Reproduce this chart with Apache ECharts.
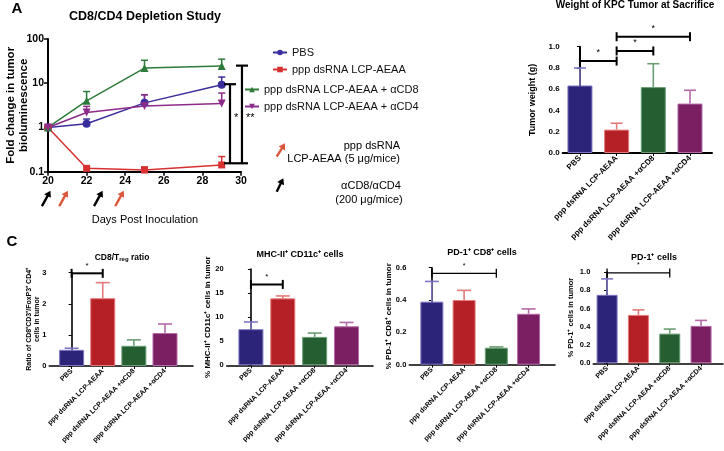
<!DOCTYPE html>
<html>
<head>
<meta charset="utf-8">
<script src="https://cdn.jsdelivr.net/npm/echarts@6/dist/echarts.min.js"></script>
<style>
html, body { margin: 0; padding: 0; background: #fff; }
#main { width: 724px; height: 451px; }
</style>
</head>
<body>
<div id="main"></div>
<script>
// ---- panel A: fold change in bioluminescence ----
var days = [20, 22, 25, 29];
var foldPbs = [1, 1.21, 3.6, 9.2];
var foldPbsHi = [1, 1.55, 5.5, 13.8];
var foldRna = [1, 0.119, 0.109, 0.142];
var foldRnaHi = [1, 0.13, 0.128, 0.22];
var foldCd8 = [1, 4.0, 22, 24.5];
var foldCd8Hi = [1, 6.5, 33, 35];
var foldCd4 = [1, 2.18, 3.05, 3.5];
var foldCd4Hi = [1, 3.0, 5.5, 6.0];
// [x, top, bottom]
var foldSig = [[29.43, 9.5, 0.155], [30.05, 25, 0.155]];
var foldSigText = ['*', '**'];
var antibodyDays = [20.1, 22.8];
var rnaDays = [21, 23.9];

var legendNames = ['PBS', 'ppp dsRNA LCP-AEAA', 'ppp dsRNA LCP-AEAA + \u03b1CD8', 'ppp dsRNA LCP-AEAA + \u03b1CD4'];

// ---- bar panels ----
var groups = ['PBS', 'ppp dsRNA LCP-AEAA', 'ppp dsRNA LCP-AEAA +\u03b1CD8', 'ppp dsRNA LCP-AEAA +\u03b1CD4'];
var tumorWeight = [0.635, 0.22, 0.62, 0.465];
var tumorWeightHi = [0.80, 0.28, 0.84, 0.59];
var cd8TregRatio = [0.52, 2.18, 0.65, 1.06];
var cd8TregRatioHi = [0.57, 2.68, 0.84, 1.35];
var mhcCells = [7.5, 13.9, 5.9, 8.1];
var mhcCellsHi = [9.0, 14.4, 6.7, 8.9];
var pd1Cd8Cells = [0.39, 0.40, 0.105, 0.315];
var pd1Cd8CellsHi = [0.515, 0.46, 0.11, 0.345];
var pd1Cells = [0.75, 0.53, 0.325, 0.41];
var pd1CellsHi = [0.925, 0.585, 0.375, 0.47];
// significance brackets [from, to, y]
var weightSig = [[0, 1, 0.865], [1, 2, 0.96], [1, 3, 1.094]];
var ratioSig = [[0, 1, 2.98]];
var mhcSig = [[0, 1, 16.8]];
var pd1Cd8Sig = [[0, 2, 0.565]];
var pd1Sig = [[0, 2, 0.99]];

var FONT = 'Liberation Sans, Arial, Helvetica, sans-serif';
var lineColors = ['#3a2d9c', '#d83131', '#2d7b3a', '#8d2b8a'];
var barFill = ['#2b2479', '#b52026', '#245e31', '#7b1f63'];
var barEdge = ['#7d76c2', '#e57a7a', '#6b9e74', '#b46aa6'];
var orange = '#d9583c';

var chart = echarts.init(document.getElementById('main'));
var grids = [], xAxes = [], yAxes = [], series = [], graphics = [];

function arrowEls(hx, hy, tx, ty, color) {
  var dx = hx - tx, dy = hy - ty, L = Math.sqrt(dx * dx + dy * dy);
  var ux = dx / L, uy = dy / L, nx = -uy, ny = ux;
  var bx = hx - ux * 6, by = hy - uy * 6;
  return [
    { type: 'line', shape: { x1: tx, y1: ty, x2: bx + ux, y2: by + uy }, style: { stroke: color, lineWidth: 2.4 } },
    { type: 'polygon', shape: { points: [[hx, hy], [bx + nx * 3.8, by + ny * 3.8], [bx - nx * 3.8, by - ny * 3.8]] }, style: { fill: color } }
  ];
}

function txt(x, y, s, size, bold, align, rich) {
  var st = { text: s, font: (bold ? 'bold ' : '') + size + 'px ' + FONT, fill: '#000', align: align || 'center', verticalAlign: 'middle' };
  if (rich) st.rich = rich;
  graphics.push({ type: 'text', x: x, y: y, style: st });
}

// error bar going up from the mean
function errBar(cap, lw, colors) {
  return function (params, api) {
    if (api.value(2) <= api.value(1)) return null;
    var lo = api.coord([api.value(0), api.value(1)]);
    var hi = api.coord([api.value(0), api.value(2)]);
    var col = Array.isArray(colors) ? colors[params.dataIndex] : colors;
    return { type: 'group', children: [
      { type: 'line', shape: { x1: lo[0], y1: lo[1], x2: hi[0], y2: hi[1] }, style: { stroke: col, lineWidth: lw } },
      { type: 'line', shape: { x1: hi[0] - cap, y1: hi[1], x2: hi[0] + cap, y2: hi[1] }, style: { stroke: col, lineWidth: lw } }
    ] };
  };
}

function bracket(lw, starSize) {
  return function (params, api) {
    var a = api.coord([api.value(0), api.value(2)]);
    var b = api.coord([api.value(1), api.value(2)]);
    var st = { stroke: '#000', lineWidth: lw };
    return { type: 'group', children: [
      { type: 'line', shape: { x1: a[0], y1: a[1], x2: b[0], y2: b[1] }, style: st },
      { type: 'line', shape: { x1: a[0], y1: a[1] - 4.5, x2: a[0], y2: a[1] + 4.5 }, style: st },
      { type: 'line', shape: { x1: b[0], y1: b[1] - 4.5, x2: b[0], y2: b[1] + 4.5 }, style: st },
      { type: 'text', x: (a[0] + b[0]) / 2, y: a[1] - 4, style: { text: '*', font: starSize + 'px ' + FONT, fill: '#000', align: 'center', verticalAlign: 'bottom' } }
    ] };
  };
}

// ---------- panel A ----------
grids.push({ left: 48, top: 39, width: 193, height: 132.7, outerBoundsMode: 'none' });
xAxes.push({
  type: 'value', gridIndex: 0, min: 20, max: 30, interval: 2,
  axisLine: { onZero: false, lineStyle: { color: '#000', width: 2 } },
  axisTick: { length: 4, lineStyle: { color: '#000', width: 1.5 } },
  axisLabel: { color: '#000', fontWeight: 'bold', fontSize: 10.5, margin: 4, fontFamily: FONT },
  splitLine: { show: false }
});
yAxes.push({
  type: 'log', logBase: 10, gridIndex: 0, min: 0.1, max: 100,
  axisLine: { show: true, lineStyle: { color: '#000', width: 2 } },
  axisTick: { show: true, length: 4, lineStyle: { color: '#000', width: 1.5 } },
  minorTick: { show: false },
  axisLabel: { color: '#000', fontWeight: 'bold', fontSize: 10.5, margin: 4, fontFamily: FONT,
    formatter: function (v) { return String(+(+v).toPrecision(2)); } },
  splitLine: { show: false },
  name: 'Fold change in tumor\nbioluminescence', nameLocation: 'middle', nameGap: 18, nameMoveOverlap: false,
  nameTextStyle: { fontWeight: 'bold', fontSize: 11.5, lineHeight: 12.5, color: '#000', fontFamily: FONT }
});

var foldSets = [[foldPbs, foldPbsHi], [foldRna, foldRnaHi], [foldCd8, foldCd8Hi], [foldCd4, foldCd4Hi]];
var symbols = ['circle', 'rect', 'triangle', 'triangle'];
var symSizes = [8, 7, 8, 8];
var symRot = [0, 0, 0, 180];
foldSets.forEach(function (s, k) {
  series.push({
    type: 'custom', xAxisIndex: 0, yAxisIndex: 0, z: 1,
    data: days.map(function (d, i) { return [d, s[0][i], s[1][i]]; }),
    renderItem: errBar(3.5, 1.5, lineColors[k])
  });
  series.push({
    type: 'line', name: legendNames[k], xAxisIndex: 0, yAxisIndex: 0, z: 3,
    data: days.map(function (d, i) { return [d, s[0][i]]; }),
    symbol: symbols[k], symbolSize: symSizes[k], symbolRotate: symRot[k],
    color: lineColors[k], lineStyle: { width: 1.5 }
  });
});
var foldStarLevel = 1.85;
series.push({
  type: 'custom', xAxisIndex: 0, yAxisIndex: 0, z: 4, clip: false,
  data: foldSig,
  renderItem: function (params, api) {
    var t = api.coord([api.value(0), api.value(1)]);
    var b = api.coord([api.value(0), api.value(2)]);
    var s = api.coord([api.value(0), foldStarLevel]);
    var st = { stroke: '#000', lineWidth: 2.2 };
    return { type: 'group', children: [
      { type: 'line', shape: { x1: t[0], y1: t[1], x2: b[0], y2: b[1] }, style: st },
      { type: 'line', shape: { x1: t[0] - 6, y1: t[1], x2: t[0] + 6, y2: t[1] }, style: st },
      { type: 'line', shape: { x1: b[0] - 6, y1: b[1], x2: b[0] + 6, y2: b[1] }, style: st },
      { type: 'text', x: t[0] + 4, y: s[1] + 2, style: { text: foldSigText[params.dataIndex], font: '11px ' + FONT, fill: '#000', align: 'left', verticalAlign: 'middle' } }
    ] };
  }
});
// injection arrows under the day axis
function arrowSeries(dayList, color) {
  series.push({
    type: 'custom', xAxisIndex: 0, yAxisIndex: 0, clip: false, z: 4,
    data: dayList.map(function (d) { return [d, 0.1]; }),
    renderItem: function (params, api) {
      var p = api.coord([api.value(0), api.value(1)]);
      return { type: 'group', children: arrowEls(p[0] + 0.5, p[1] + 19, p[0] - 8, p[1] + 34.5, color) };
    }
  });
}
arrowSeries(antibodyDays, '#000');
arrowSeries(rnaDays, orange);

// ---------- bar panels ----------
function barPanel(o) {
  var g = grids.length;
  grids.push({ left: o.left, top: o.top, width: o.width, height: o.height, outerBoundsMode: 'none' });
  xAxes.push({
    type: 'value', gridIndex: g, min: o.xmin, max: o.xmax,
    axisLine: { onZero: false, lineStyle: { color: '#000', width: o.lw } },
    axisTick: { show: true, customValues: [0, 1, 2, 3], length: 3, lineStyle: { color: '#000', width: 1 } },
    axisLabel: { customValues: [0, 1, 2, 3], formatter: function (v) { return groups[Math.round(v)]; },
      rotate: 45, fontSize: o.xfs, fontWeight: 'bold', color: '#000', fontFamily: FONT, margin: 4 },
    splitLine: { show: false }
  });
  yAxes.push({
    type: 'value', gridIndex: g, min: 0, max: o.ymax, interval: o.step,
    axisLine: { show: true, lineStyle: { color: '#000', width: o.lw } },
    axisTick: { show: true, length: 3, lineStyle: { color: '#000', width: 1 } },
    axisLabel: { color: '#000', fontWeight: 'bold', fontSize: o.yfs, margin: 3, fontFamily: FONT,
      formatter: function (v) { return o.dec ? v.toFixed(o.dec) : String(v); } },
    splitLine: { show: false },
    name: o.yName, nameLocation: 'middle', nameGap: o.nameGap, nameMoveOverlap: false,
    nameTextStyle: { fontWeight: 'bold', fontSize: o.nameFs, lineHeight: o.nameFs + 1, color: '#000', fontFamily: FONT }
  });
  series.push({
    type: 'custom', xAxisIndex: g, yAxisIndex: g, z: 1,
    data: o.vals.map(function (v, i) { return [i, v, o.hi[i]]; }),
    renderItem: errBar(o.cap, 1.6, barEdge)
  });
  series.push({
    type: 'bar', xAxisIndex: g, yAxisIndex: g, barWidth: o.barW, z: 2,
    data: o.vals.map(function (v, i) {
      return { value: [i, v], itemStyle: { color: barFill[i], borderColor: barEdge[i], borderWidth: 1 } };
    })
  });
  series.push({
    type: 'custom', xAxisIndex: g, yAxisIndex: g, z: 3, clip: false,
    encode: { x: [0, 1], y: 2 },
    data: o.sig, renderItem: bracket(o.blw, o.starFs)
  });
}

barPanel({ left: 562.7, top: 46.7, width: 149.3, height: 106.3, xmin: -0.47, xmax: 3.6,
  ymax: 1, step: 0.2, dec: 1, vals: tumorWeight, hi: tumorWeightHi, sig: weightSig,
  barW: 25, cap: 6, lw: 2, blw: 2, starFs: 9, xfs: 8, yfs: 8,
  yName: 'Tumor weight (g)', nameGap: 25, nameFs: 9 });
barPanel({ left: 49.3, top: 272.7, width: 143.7, height: 93.3, xmin: -0.717, xmax: 3.9,
  ymax: 3, step: 1, dec: 0, vals: cd8TregRatio, hi: cd8TregRatioHi, sig: ratioSig,
  barW: 25, cap: 7, lw: 1.6, blw: 2, starFs: 8, xfs: 7, yfs: 7.5,
  yName: 'Ratio of CD8\u207aCD3\u207a/FoxP3\u207a CD4\u207a\ncells in tumor', nameGap: 8, nameFs: 7 });
barPanel({ left: 226.7, top: 269, width: 146.3, height: 96.3, xmin: -0.76, xmax: 3.83,
  ymax: 20, step: 5, dec: 0, vals: mhcCells, hi: mhcCellsHi, sig: mhcSig,
  barW: 25, cap: 7, lw: 1.6, blw: 2, starFs: 8, xfs: 7, yfs: 7.5,
  yName: '% MHC-II\u207a CD11c\u207a cells in tumor', nameGap: 14, nameFs: 8 });
barPanel({ left: 409.3, top: 267.7, width: 145.7, height: 97, xmin: -0.70, xmax: 3.82,
  ymax: 0.6, step: 0.2, dec: 1, vals: pd1Cd8Cells, hi: pd1Cd8CellsHi, sig: pd1Cd8Sig,
  barW: 23, cap: 7, lw: 1.6, blw: 1.3, starFs: 7, xfs: 7, yfs: 7.5,
  yName: '% PD-1\u207a CD8\u207a cells in tumor', nameGap: 16, nameFs: 8 });
barPanel({ left: 593.3, top: 272, width: 129.7, height: 91.3, xmin: -0.44, xmax: 3.70,
  ymax: 1, step: 0.2, dec: 1, vals: pd1Cells, hi: pd1CellsHi, sig: pd1Sig,
  barW: 21, cap: 6, lw: 1.6, blw: 1.3, starFs: 7, xfs: 7, yfs: 7.5,
  yName: '% PD-1\u207a cells in tumor', nameGap: 18, nameFs: 7.5 });

// ---------- texts ----------
txt(17, 9, 'A', 15, true);
txt(145, 17, 'CD8/CD4 Depletion Study', 12.5, true);
txt(145, 220, 'Days Post Inoculation', 11, false);
txt(635, 5, 'Weight of KPC Tumor at Sacrifice', 10, true);
txt(12, 242, 'C', 15, true);
txt(122, 258, 'CD8/T{sub|reg} ratio', 8.5, true, 'center', { sub: { fontSize: 6, fontWeight: 'bold', fontFamily: FONT, verticalAlign: 'bottom' } });
txt(300, 255, 'MHC-II\u207a CD11c\u207a cells', 9, true);
txt(482, 253, 'PD-1\u207a CD8\u207a cells', 9, true);
txt(654, 258, 'PD-1\u207a cells', 9, true);

txt(400, 146, 'ppp dsRNA', 11, false, 'right');
txt(400, 158.5, 'LCP-AEAA (5 \u03bcg/mice)', 11, false, 'right');
txt(371, 186, '\u03b1CD8/\u03b1CD4', 11, false);
txt(369, 200, '(200 \u03bcg/mice)', 11, false);
graphics.push({ type: 'group', children: arrowEls(285, 143.3, 276.7, 156.7, orange) });
graphics.push({ type: 'group', children: arrowEls(283.3, 178.3, 276.7, 191.7, '#000') });

var legendCommon = {
  orient: 'vertical', itemWidth: 14, itemHeight: 7, itemGap: 6, padding: 0, selectedMode: false,
  textStyle: { fontSize: 11, color: '#111', fontFamily: FONT }
};
var option = {
  animation: false,
  backgroundColor: '#fff',
  textStyle: { fontFamily: FONT },
  legend: [
    Object.assign({ data: [legendNames[0], legendNames[1]], left: 272, top: 47 }, legendCommon),
    Object.assign({ data: [legendNames[2], legendNames[3]], left: 244, top: 84 }, legendCommon)
  ],
  grid: grids,
  xAxis: xAxes,
  yAxis: yAxes,
  series: series,
  graphic: graphics
};
chart.setOption(option);
</script>
</body>
</html>
